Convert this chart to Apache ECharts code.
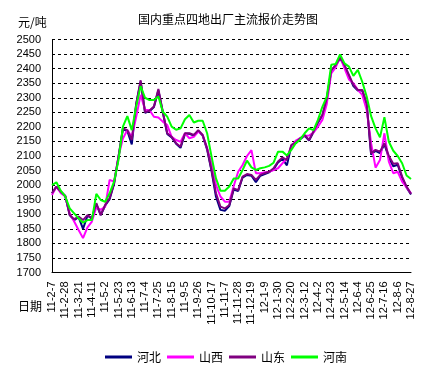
<!DOCTYPE html>
<html><head><meta charset="utf-8">
<script src="https://cdn.jsdelivr.net/npm/echarts@6/dist/echarts.min.js"></script>
<style>html,body{margin:0;padding:0;background:#fff}#c{width:433px;height:370px}</style>
</head><body><div id="c"></div>
<script>
const seriesNames = ['河北', '山西', '山东', '河南'];
const seriesColors = ['#000080', '#FF00FF', '#800080', '#00FF00'];
const yTicks = {min: 1700, max: 2500, step: 50};

const hebei = [1972,1995,1977,1963,1897,1880,1890,1850,1895,1886,1935,1897,1930,1952,2004,2095,2192,2186,2140,2278,2355,2248,2254,2268,2325,2250,2176,2164,2142,2128,
2176,2176,2170,2186,2170,2122,2048,1960,1915,1912,1928,1985,1980,2026,2035,2032,2010,2032,2038,2044,2055,2078,2090,2068,2135,2144,2158,2170,2153,2182,
2215,2238,2295,2392,2410,2436,2410,2375,2340,2325,2325,2278,2105,2118,2110,2140,2095,2065,2070,2025,1992,1968];
const shanxi = [1966,1995,1972,1961,1903,1875,1846,1818,1855,1875,1924,1915,1926,2018,2012,2098,2160,2189,2166,2235,2310,2258,2258,2235,2232,2218,2206,2166,2155,2149,
2178,2161,2166,2184,2172,2126,2075,2001,1961,1943,1943,1997,2046,2069,2100,2120,2041,2041,2044,2046,2052,2058,2075,2092,2132,2153,2161,2169,2170,2180,
2201,2224,2279,2384,2404,2440,2401,2363,2350,2327,2310,2258,2144,2060,2086,2178,2081,2041,2046,2012,1992,1972];
const shandong = [1972,1995,1977,1963,1897,1883,1892,1880,1897,1886,1938,1897,1932,1955,2006,2098,2195,2189,2155,2280,2360,2250,2256,2270,2330,2252,2178,2166,2144,2132,
2178,2178,2172,2189,2172,2126,2052,1972,1926,1920,1932,1989,1983,2029,2038,2035,2018,2035,2041,2046,2058,2081,2095,2086,2138,2146,2161,2172,2155,2184,
2218,2241,2298,2395,2412,2439,2412,2378,2344,2327,2327,2281,2109,2121,2115,2144,2100,2073,2075,2029,1995,1970];
const henan = [2000,2010,1980,1961,1920,1903,1886,1871,1880,1880,1970,1949,1943,1972,2012,2086,2201,2237,2189,2270,2340,2300,2292,2292,2304,2252,2235,2201,2190,2195,
2226,2241,2215,2221,2221,2178,2098,2023,1981,1981,1995,2023,2023,2052,2084,2061,2052,2058,2061,2066,2077,2115,2115,2102,2121,2144,2157,2178,2195,2189,
2224,2269,2304,2413,2416,2449,2418,2407,2375,2396,2355,2304,2237,2195,2164,2233,2149,2118,2100,2075,2033,2021];
const seriesData = [hebei, shanxi, shandong, henan];

// weekly categories starting 2011-02-07
const startDate = Date.UTC(2011, 1, 7);
const categories = [];
for (let k = 0; k < henan.length; k++) {
  const d = new Date(startDate + k * 7 * 86400000);
  categories.push((d.getUTCFullYear() % 100) + '-' + (d.getUTCMonth() + 1) + '-' + d.getUTCDate());
}

const chart = echarts.init(document.getElementById('c'), null, {renderer: 'canvas'});
chart.setOption({
  animation: false,
  backgroundColor: '#fff',
  title: [
    {text: '国内重点四地出厂主流报价走势图', left: 133, top: 8,
     textStyle: {fontSize: 12, fontWeight: 'normal', color: '#000', fontFamily: 'Noto Sans CJK SC'}},
    {text: '元/吨', left: 13, top: 11,
     textStyle: {fontSize: 12, fontWeight: 'normal', color: '#000', fontFamily: 'Noto Sans CJK SC'}},
    {text: '日期', left: 13, top: 295,
     textStyle: {fontSize: 12, fontWeight: 'normal', color: '#000', fontFamily: 'Noto Sans CJK SC'}}
  ],
  legend: {
    left: 100, top: 346, itemWidth: 27, itemHeight: 3, itemGap: 6, icon: 'rect',
    textStyle: {fontSize: 12, color: '#000', fontFamily: 'Noto Sans CJK SC'},
    data: seriesNames
  },
  grid: {left: 52, right: 22, top: 39.5, bottom: 97.5, containLabel: false},
  xAxis: {
    type: 'category', data: categories, boundaryGap: false,
    axisLine: {lineStyle: {color: '#000', width: 1}},
    axisTick: {show: false},
    axisLabel: {rotate: 90, interval: 2, fontSize: 11, color: '#000', margin: 9, fontFamily: 'Liberation Sans'},
    splitLine: {show: false}
  },
  yAxis: {
    type: 'value', min: yTicks.min, max: yTicks.max, interval: yTicks.step,
    axisLine: {show: true, lineStyle: {color: '#000', width: 1}},
    axisTick: {show: false},
    axisLabel: {fontSize: 11, color: '#000', margin: 11, fontFamily: 'Liberation Sans',
      formatter: v => String(v)},
    splitLine: {show: true, lineStyle: {color: '#000', width: 1, type: [3, 3]}}
  },
  series: seriesNames.map((n, i) => ({
    name: n, type: 'line', data: seriesData[i], symbol: 'none',
    lineStyle: {color: seriesColors[i], width: 2}, itemStyle: {color: seriesColors[i]}
  }))
});
</script></body></html>
